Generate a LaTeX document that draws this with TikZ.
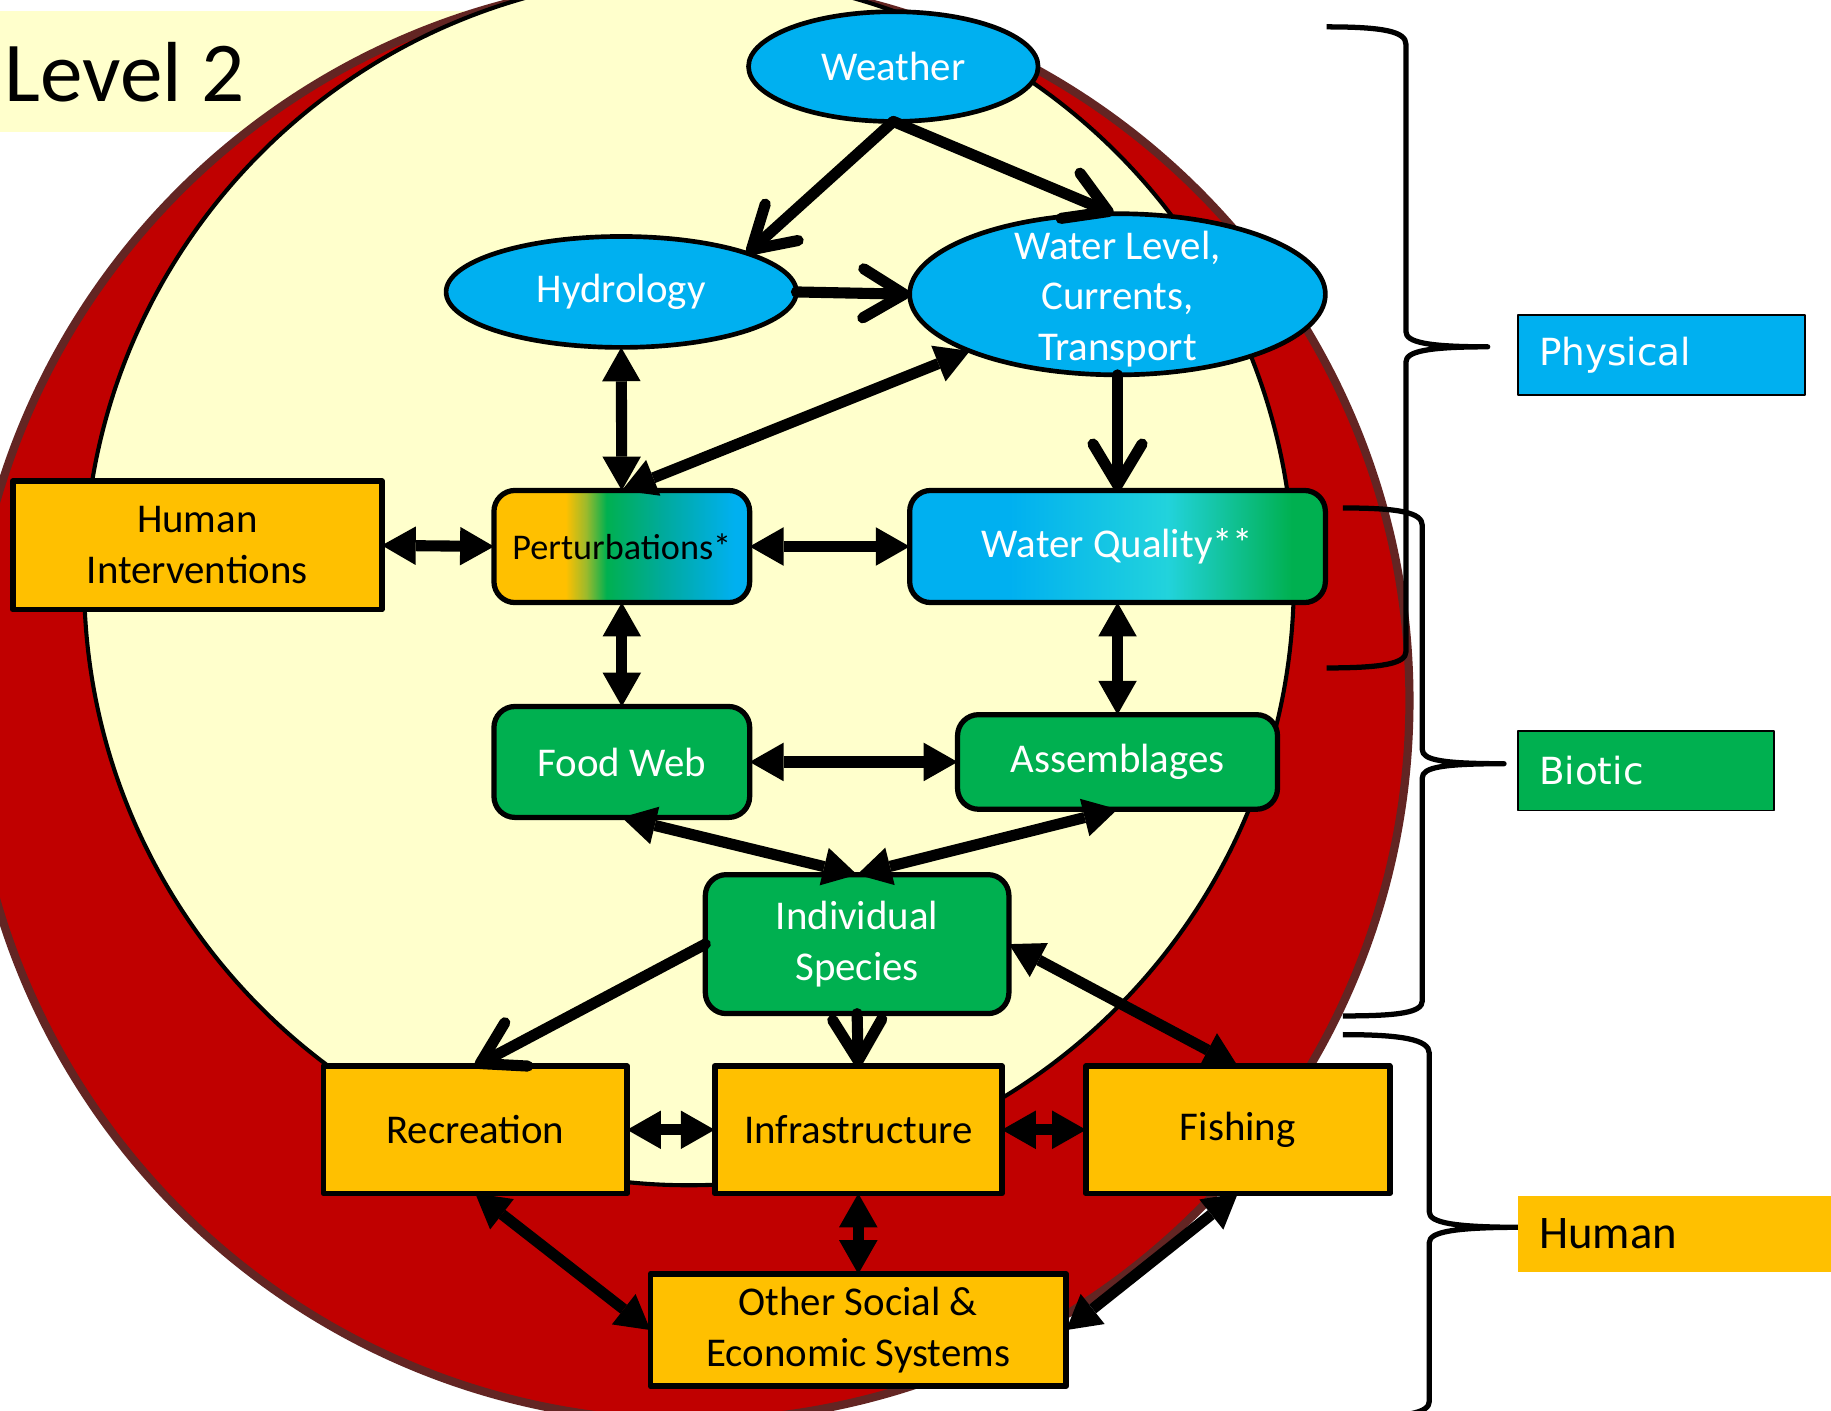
\documentclass[tikz,border=0pt]{standalone}
\usepackage{fontspec}
\setmainfont{Carlito}
\newfontfamily\djv{DejaVu Sans}
\usetikzlibrary{arrows.meta,shapes.geometric}
\definecolor{pblue}{HTML}{00B0F0}
\definecolor{pgreen}{HTML}{00B050}
\definecolor{porange}{HTML}{FFC000}
\definecolor{ppale}{HTML}{FFFFCC}
\definecolor{pred}{HTML}{C00000}
\definecolor{pbrown}{HTML}{632523}
\definecolor{pteal}{HTML}{00AA9C}
\definecolor{pyg}{HTML}{9CBA2C}
\definecolor{wqcyan}{HTML}{22D3DC}
\pgfdeclarehorizontalshading{pertshade}{100bp}{color(0bp)=(porange); color(39bp)=(porange); color(43bp)=(pyg); color(47bp)=(pgreen); color(58bp)=(pteal); color(72bp)=(pblue); color(100bp)=(pblue)}
\pgfdeclarehorizontalshading{wqshade}{100bp}{color(0bp)=(pblue); color(37bp)=(pblue); color(56bp)=(wqcyan); color(71bp)=(pgreen); color(100bp)=(pgreen)}
\tikzset{
  every node/.style={inner sep=0pt, outer sep=0pt, align=center},
  nfont/.style={font=\fontsize{35}{43.5}\selectfont},
  ell/.style={ellipse, draw=black, line width=4pt, fill=pblue, text=white, nfont},
  rbox/.style={rectangle, rounded corners=18pt, draw=black, line width=4.5pt, nfont},
  gbox/.style={rbox, fill=pgreen, text=white},
  obox/.style={rectangle, draw=black, line width=5pt, fill=porange, text=black, nfont},
  lab/.style={rectangle, anchor=north west, align=left, inner xsep=18pt},
  brace/.style={draw=black, line width=4.5pt},
  biarr/.style={draw=black, line width=9.5pt, {Triangle[length=29pt,width=33pt,line width=0pt]}-{Triangle[length=29pt,width=33pt,line width=0pt]}},
  onearr/.style={draw=black, line width=9.5pt, line cap=round, -{Straight Barb[length=35pt,width=42pt,round]}}
}
\begin{document}
\begin{tikzpicture}[x=1pt, y=-1pt, line join=round]
\clip (0,0) rectangle (1568,1208);
\fill[white] (0,0) rectangle (1568,1208);
% Level 2 background
\fill[ppale] (0,9) rectangle (440,113);
% outer ring
\filldraw[fill=pred, draw=pbrown, line width=7pt] (590,600) circle[radius=617];
% inner circle
\filldraw[fill=ppale, draw=black, line width=3.5pt] (590,497) circle[radius=518];
\node[anchor=base west, font=\fontsize{73}{80}\selectfont] (lvl) at (4,87) {Level 2};

% braces
\draw[brace] (1136,23) .. controls (1185,23) and (1204,27) .. (1204,38) -- (1204,284) .. controls (1204,293) and (1222,297) .. (1274,297) .. controls (1222,297) and (1204,301) .. (1204,310) -- (1204,558) .. controls (1204,568) and (1185,572) .. (1136,572);
\draw[brace] (1150,435) .. controls (1199,435) and (1218,439) .. (1218,450) -- (1218,642) .. controls (1218,651) and (1236,654) .. (1288,654) .. controls (1236,654) and (1218,657) .. (1218,666) -- (1218,857) .. controls (1218,867) and (1199,870) .. (1150,870);
\draw[brace] (1150,886) .. controls (1200,886) and (1224,890) .. (1224,902) -- (1224,1038) .. controls (1224,1047) and (1245,1051) .. (1302,1051) .. controls (1245,1051) and (1224,1055) .. (1224,1064) -- (1224,1200) .. controls (1224,1210) and (1205,1214) .. (1150,1214);

% labels
\node[lab, draw=black, line width=1.5pt, fill=pblue, text=white, minimum height=68pt, text width=210pt, font=\djv\fontsize{32}{38}\selectfont] (phys) at (1300,270) {Physical};
\node[lab, draw=black, line width=1.5pt, fill=pgreen, text=white, minimum height=68pt, text width=183pt, font=\djv\fontsize{32}{38}\selectfont] (biot) at (1300,626) {Biotic};
\node[lab, fill=porange, text=black, minimum height=65pt, text width=250pt, font=\fontsize{40}{46}\selectfont] (hum) at (1300,1024) {Human};

% nodes
\node[ell, minimum width=248pt, minimum height=94pt] (weather) at (765,57) {Weather};
\node[ell, minimum width=300pt, minimum height=95pt] (hydro) at (532,250) {\raisebox{-3pt}{Hydrology}};
\node[ell, minimum width=356pt, minimum height=138pt] (wl) at (957,252) {};
\node[nfont, text=white] (wltext) at (957,256) {Water Level,\\Currents,\\Transport};
\node[rbox, shade, shading=pertshade, minimum width=219pt, minimum height=96pt, font=\fontsize{31}{38}\selectfont] (pert) at (532.5,468) {Perturbations*};
\node[obox, minimum width=316pt, minimum height=110pt] (hi) at (169,467) {Human\\Interventions};
\node[rbox, shade, shading=wqshade, text=white, minimum width=356pt, minimum height=96pt] (wq) at (957,468) {\raisebox{-3pt}{Water Quality**}};
\node[gbox, minimum width=219pt, minimum height=95pt] (food) at (532.5,652.5) {Food Web};
\node[gbox, minimum width=274pt, minimum height=81pt] (assem) at (957,652.5) {\raisebox{-3pt}{Assemblages}};
\node[gbox, minimum width=260pt, minimum height=119pt] (indiv) at (734,808.5) {Individual\\Species};
\node[obox, minimum width=260pt, minimum height=109pt] (rec) at (407,967.5) {Recreation};
\node[obox, minimum width=246pt, minimum height=109pt] (infra) at (735,967.5) {Infrastructure};
\node[obox, minimum width=260pt, minimum height=109pt] (fish) at (1060,967.5) {\raisebox{-3pt}{Fishing}};
\node[obox, minimum width=356pt, minimum height=96pt] (other) at (735,1139) {Other Social \&\\Economic Systems};

% one-way arrows
\draw[onearr] (weather.south) -- (hydro.17);
\draw[onearr] (weather.south) -- (wl.93);
\draw[onearr] (hydro.east) -- (wl.west);
\draw[onearr] (wl.south) -- (wq.north);
\draw[onearr] (indiv.west) -- (rec.north);
\draw[onearr] (indiv.south) -- (infra.north);

% two-way arrows
\draw[biarr] (pert.north) -- (wl.201);
\draw[biarr] (hydro.south) -- (pert.north);
\draw[biarr] (hi.east) -- (pert.west);
\draw[biarr] (pert.east) -- (wq.west);
\draw[biarr] (pert.south) -- (food.north);
\draw[biarr] (wq.south) -- (assem.north);
\draw[biarr] (food.east) -- (assem.west);
\draw[biarr] (food.south) -- (indiv.north);
\draw[biarr] (assem.south) -- (indiv.north);
\draw[biarr] (indiv.east) -- (fish.north);
\draw[biarr] (rec.east) -- (infra.west);
\draw[biarr] (infra.east) -- (fish.west);
\draw[biarr] (infra.south) -- (other.north);
\draw[biarr] (rec.south) -- (other.west);
\draw[biarr] (fish.south) -- (other.east);
\end{tikzpicture}
\end{document}
